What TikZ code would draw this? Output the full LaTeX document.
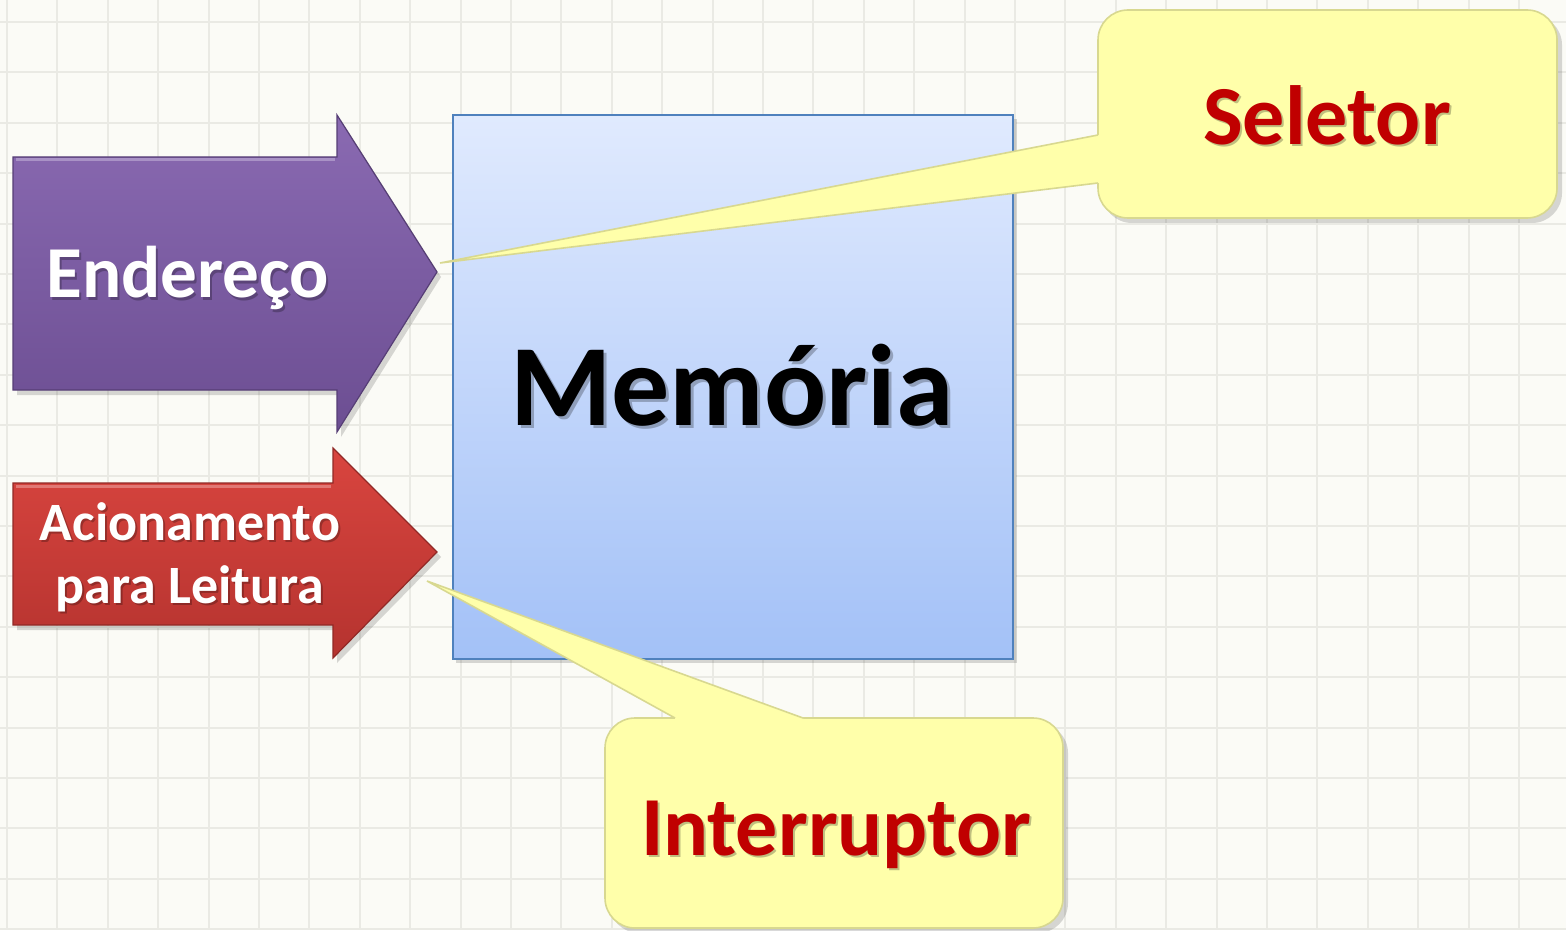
\documentclass[tikz,border=0pt]{standalone}
\usepackage{fontspec}
\setmainfont{Carlito}
\usetikzlibrary{shadings}
\definecolor{bgc}{HTML}{FBFBF6}
\definecolor{gridc}{HTML}{EAEAE4}
\definecolor{purpT}{HTML}{8A6AB2}
\definecolor{purpB}{HTML}{6C4E92}
\definecolor{redT}{HTML}{D9453F}
\definecolor{redB}{HTML}{B5332F}
\definecolor{memT}{HTML}{E0EAFE}
\definecolor{memB}{HTML}{A3C1F7}
\definecolor{memE}{HTML}{4F81BD}
\definecolor{yelF}{HTML}{FFFFAA}
\definecolor{yelE}{HTML}{D8D890}
\definecolor{darkred}{HTML}{C00000}
\tikzset{
  gridline/.style={draw=gridc, line width=1},
  shapeshadow/.style={fill=black, opacity=0.15},
  purplearrow/.style={top color=purpT, bottom color=purpB, draw=purpB!80!black, line width=0.6},
  redarrow/.style={top color=redT, bottom color=redB, draw=redB!80!black, line width=0.6},
  membox/.style={top color=memT, bottom color=memB, draw=memE, line width=1.2},
  calloutbox/.style={fill=yelF, draw=yelE, line width=0.8, rounded corners=15},
  callouttail/.style={fill=yelF},
  tailedge/.style={draw=yelE, line width=0.8},
  txtshadow/.style={text=black, opacity=0.25},
  whitetxt/.style={text=white, font=\bfseries},
  redtxt/.style={text=darkred, font=\bfseries},
}
\begin{document}
\begin{tikzpicture}[x=0.5pt, y=-0.5pt]
\useasboundingbox (0,0) rectangle (1566,930);
\fill[bgc] (0,0) rectangle (1566,930);
% grid
\foreach \i in {0,...,31} \draw[gridline] ({7+50.4*\i},0) -- ({7+50.4*\i},930);
\foreach \j in {0,...,18} \draw[gridline] (0,{22+50.4*\j}) -- (1566,{22+50.4*\j});

% memory box
\fill[shapeshadow] (456,119) rectangle (1017,663);
\node[membox, draw, minimum width=280pt, minimum height=272pt, inner sep=0pt, anchor=north west] (mem) at (452,114) {};

% Endereco arrow
\fill[shapeshadow] (17,162) -- (341,162) -- (341,120) -- (441,277) -- (341,437) -- (341,395) -- (17,395) -- cycle;
\path[purplearrow] (13,157) -- (337,157) -- (337,115) -- (437,272) -- (337,432) -- (337,390) -- (13,390) -- cycle;
\draw[purpT!60!white, line width=1.5, opacity=0.7] (16,160) -- (335,160);
\coordinate (endtip) at (437,272);

% Acionamento arrow
\fill[shapeshadow] (17,488) -- (337,488) -- (337,453) -- (441,557) -- (337,663) -- (337,630) -- (17,630) -- cycle;
\path[redarrow] (13,483) -- (333,483) -- (333,448) -- (437,552) -- (333,658) -- (333,625) -- (13,625) -- cycle;
\draw[redT!60!white, line width=1.5, opacity=0.7] (16,486) -- (331,486);
\coordinate (acitip) at (437,552);

% Seletor callout
\fill[shapeshadow, rounded corners=15] (1102,15) rectangle (1562,223);
\coordinate (seltip) at (440,263);
\coordinate (selA) at (1098,135);
\coordinate (selB) at (1098,183);
\path[calloutbox] (1098,10) rectangle (1557,218);
\fill[callouttail] (seltip) -- (selA) -- (1104,135) -- (1104,183) -- (selB) -- cycle;
\draw[tailedge] (selA) -- (seltip) -- (selB);
\node[txtshadow, font=\fontsize{42}{50}\selectfont\bfseries, anchor=base] at (1329,147) {Seletor};
\node[redtxt, font=\fontsize{42}{50}\selectfont\bfseries, anchor=base] (sel) at (1327,145) {Seletor};

% Interruptor callout
\fill[shapeshadow, rounded corners=15] (609,723) rectangle (1068,933);
\coordinate (inttip) at (427,581);
\coordinate (intA) at (675,718);
\coordinate (intB) at (803,718);
\path[calloutbox] (605,718) rectangle (1063,928);
\fill[callouttail] (inttip) -- (intA) -- (675,724) -- (803,724) -- (intB) -- cycle;
\draw[tailedge] (intA) -- (inttip) -- (intB);
\node[txtshadow, font=\fontsize{42}{50}\selectfont\bfseries, anchor=base] at (838,857) {Interruptor};
\node[redtxt, font=\fontsize{42}{50}\selectfont\bfseries, anchor=base] (int) at (836,855) {Interruptor};

% texts
\node[txtshadow, font=\fontsize{58}{66}\selectfont\bfseries, anchor=base] at (735,428) {Memória};
\node[text=black, font=\fontsize{58}{66}\selectfont\bfseries, anchor=base] (memtxt) at (732,425) {Memória};

\node[txtshadow, font=\fontsize{36.6}{44}\selectfont\bfseries, anchor=base] at (190,300) {Endereço};
\node[whitetxt, font=\fontsize{36.6}{44}\selectfont\bfseries, anchor=base] (end) at (188,298) {Endereço};

\node[txtshadow, font=\fontsize{27}{32}\selectfont\bfseries, anchor=base] at (192,542) {Acionamento};
\node[whitetxt, font=\fontsize{27}{32}\selectfont\bfseries, anchor=base] (aci1) at (190,540) {Acionamento};
\node[txtshadow, font=\fontsize{27}{32}\selectfont\bfseries, anchor=base] at (192,605) {para Leitura};
\node[whitetxt, font=\fontsize{27}{32}\selectfont\bfseries, anchor=base] (aci2) at (190,603) {para Leitura};
\end{tikzpicture}
\end{document}
